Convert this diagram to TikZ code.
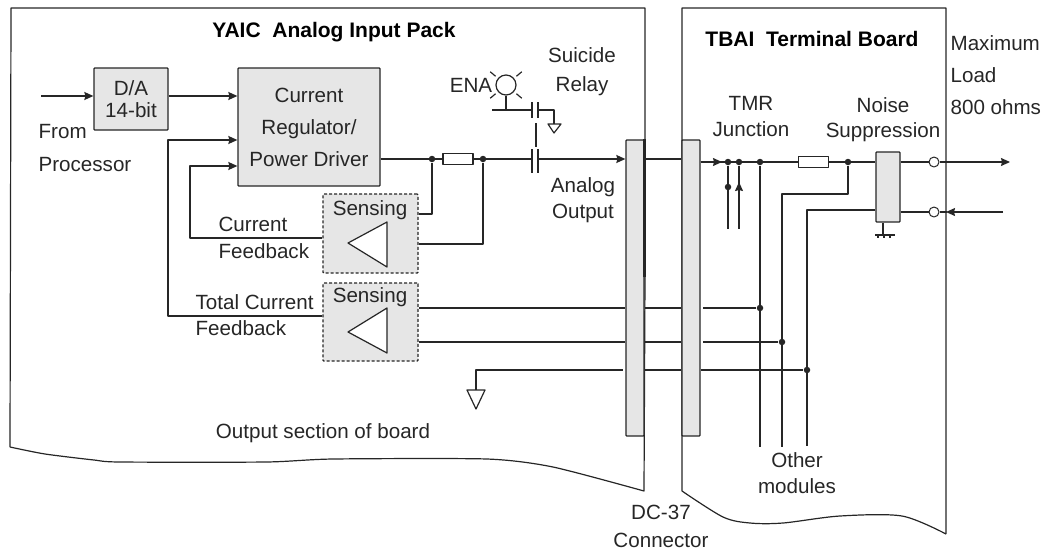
\documentclass[tikz,border=0pt]{standalone}
\usepackage{fontspec}
\usetikzlibrary{arrows.meta}
\setmainfont{Liberation Sans}
\definecolor{wire}{HTML}{262626}
\definecolor{panel}{HTML}{E6E6E6}
\tikzset{
	lbl/.style={align=center,inner sep=0,text=wire,font=\fontsize{20.6}{#1}\selectfont},
	lbl/.default=26,
	lbll/.style={lbl=#1,align=left,anchor=west},
	ttl/.style={inner sep=0,text=black,font=\fontsize{21}{24}\selectfont\bfseries},
	blk/.style={draw=wire,fill=panel,line width=1.3pt,inner sep=0,rounded corners=.8pt},
	sns/.style={blk,dashed,dash pattern=on 3pt off 2pt,minimum width=95pt},
	res/.style={draw=wire,fill=white,inner sep=0,minimum width=30pt,minimum height=11pt},
	dot/.style={circle,fill=wire,inner sep=0,minimum size=6.5pt},
	term/.style={circle,draw=wire,fill=white,line width=1pt,inner sep=0,minimum size=10pt},
}
\begin{document}
\begin{tikzpicture}[x=1pt,y=-1pt,line join=round,>={Stealth[length=9pt,width=8pt,inset=1pt]},wire/.style={draw=wire,line width=1.2pt},every path/.append style={line width=1.2pt}]
	\useasboundingbox (0,0) rectangle (1044,550);
	\draw[wire] (645,277)--(645,8)--(11,8)--(10,447) plot[smooth,tension=.4] coordinates {(10,447) (45,454) (94,460) (120,462) (266,462) (333,459) (487,459) (553,467) (644,491)}--(645,277);
	\draw[wire] (682,491)--(682,8)--(946,8)--(946,534) plot[smooth,tension=.5] coordinates {(946,534) (902,516) (840,516) (783,523) (750,523) (723,517) (682,491)};
	\node[ttl] (yaic) at (334,32) {YAIC\ \ Analog Input Pack};
	\node[ttl] (tbai) at (812,39) {TBAI\ \ Terminal Board};
	\node[blk,lbl=22,minimum width=74pt,minimum height=62pt] (da) at (131,99) {D/A\\14-bit};
	\node[blk,lbl=32,minimum width=142pt,minimum height=118pt] (drv) at (309,127) {Current\\Regulator/\\Power Driver};
	\node[sns,minimum height=79pt] (sa) at (370.5,233.5) {};
	\node[sns,minimum height=78pt] (sb) at (370.5,322) {};
	\node[lbl] (sat) at (370,210) {Sensing};
	\node[lbl] (sbt) at (370,297) {Sensing};
	\draw[draw=wire,fill=white] (387,222)--(348,243)--(387,267)--cycle;
	\draw[draw=wire,fill=white] (387,308)--(348,332)--(387,353)--cycle;
	\node[blk,minimum width=18pt,minimum height=296pt] (cna) at (635,288) {};
	\node[blk,minimum width=18pt,minimum height=296pt] (cnb) at (691,288) {};
	\draw[draw=wire,line width=2.6pt] (cna.north east)--(cna.north east|-0,277);
	\node[res] (ra) at (458,159) {};
	\node[res] (rb) at (813.5,162) {};
	\node[blk,minimum width=24pt,minimum height=70pt] (ns) at (888,187) {};
	\node[term] (ta) at (934,162) {};
	\node[term] (tb) at (934,212) {};
	\node[dot] (ja) at (432,159) {};
	\node[dot] (jb) at (483,159) {};
	\node[dot] (jc) at (728,162) {};
	\node[dot] (jd) at (739,162) {};
	\node[dot] (je) at (760,162) {};
	\node[dot] (jf) at (848,162) {};
	\node[dot] (jg) at (728,187) {};
	\node[dot] (jh) at (760,308) {};
	\node[dot] (ji) at (782,342) {};
	\node[dot] (jj) at (807,370) {};
	\coordinate (src) at (41,96);
	\coordinate (fba) at (190,166);
	\coordinate (fbb) at (168,140);
	\coordinate (cta) at (532,159);
	\coordinate (ctb) at (538,159);
	\coordinate (ctc) at (532,110);
	\coordinate (ctd) at (538,110);
	\coordinate (gnda) at (554,124);
	\coordinate (gndb) at (476,390);
	\coordinate (gndc) at (883,235);
	\draw[wire,->] (src)--(da.west|-src);
	\draw[wire,->] (da.east|-src)--(drv.west|-src);
	\draw[wire,->] (sb.west|-0,316)-|(fbb)--(drv.west|-fbb);
	\draw[wire,->] (sa.west|-0,238)-|(fba)--(drv.west|-fba);
	\draw[wire] (drv.east|-ja)--(ra.west) (ra.east)--(cta) (sa.east|-0,214)-|(ja);
	\draw[wire] (sa.east|-0,244)-|(jb);
	\draw[wire,->] (ctb)--(cna.west|-ctb);
	\draw[wire] (cna.east|-ctb)--(cnb.west|-ctb);
	\draw[wire] (cnb.east|-jc)--(rb.west) (rb.east)--(ns.west|-jf);
	\draw[wire,->] (cnb.east|-jc)--(722,162);
	\draw[wire] (jc)--(728,229) (jd)--(739,229);
	\draw[wire,->] (739,198)--(739,182);
	\draw[wire] (je)--(760,447);
	\draw[wire] (jf)--(848,194)-|(782,447);
	\draw[wire] (ns.west|-0,210)-|(807,446);
	\draw[wire] (ns.east|-ta)--(ta) (ta)--(946,162);
	\draw[wire,->] (946,162)--(1010,162);
	\draw[wire] (ns.east|-tb)--(tb);
	\draw[wire] (tb)--(947,212);
	\draw[wire,->] (1003,212)--(946,212);
	\draw[wire] (sb.east|-jh)--(cna.west|-jh) (cna.east|-jh)--(cnb.west|-jh) (703,308)--(jh);
	\draw[wire] (sb.east|-ji)--(cna.west|-ji) (cna.east|-ji)--(cnb.west|-ji) (703,342)--(ji);
	\draw[wire] (gndb)--(476,370)--(623,370) (cna.east|-jj)--(cnb.west|-jj) (cnb.east|-jj)--(jj);
	\draw[draw=wire,fill=white] (467,390)--(485,390)--(476,409)--cycle;
	\draw[wire] (532,149)--(532,173) (538,149)--(538,173);
	\draw[wire] (532,102)--(532,118) (538,102)--(538,118);
	\draw[wire] (536,123)--(536,147);
	\node[circle,draw=wire,fill=white,inner sep=0,minimum size=20pt] (lamp) at (506,85) {};
	\foreach \a in {40,140,220,320}
		\draw[wire] ([shift={(\a:3pt)}]lamp.\a)--([shift={(\a:10pt)}]lamp.\a);
	\draw[wire] (lamp.south)--(506,110) (492,110)--(ctc) (ctd)-|(gnda);
	\draw[draw=wire,fill=white] (548,124)--(561,124)--(554,133)--cycle;
	\draw[wire] (ns.south-|gndc)--(gndc) (875,235)--(895,235) (878,235)--(878,238) (884,235)--(884,238) (890,235)--(890,238);
	\node[lbl] (ena) at (471,85) {ENA};
	\node[lbl=29] (rly) at (582,72) {Suicide\\Relay};
	\node[lbl] (aout) at (583,200) {Analog\\Output};
	\node[lbll=33] (frm) at (38,148) {From\\Processor};
	\node[lbll=27] (cfb) at (218,238) {Current\\Feedback};
	\node[lbll=26] (tfb) at (195,315) {Total Current\\Feedback};
	\node[lbl] (brd) at (323,433) {Output section of board};
	\node[lbl=28] (dc) at (661,526) {DC-37\\Connector};
	\node[lbl] (oth) at (797,473) {Other\\modules};
	\node[lbl] (tmr) at (751,117) {TMR\\Junction};
	\node[lbl=25] (noi) at (883,119.5) {Noise\\Suppression};
	\node[lbll=32] (lim) at (950,75) {Maximum\\Load\\800 ohms};
\end{tikzpicture}
\end{document}
